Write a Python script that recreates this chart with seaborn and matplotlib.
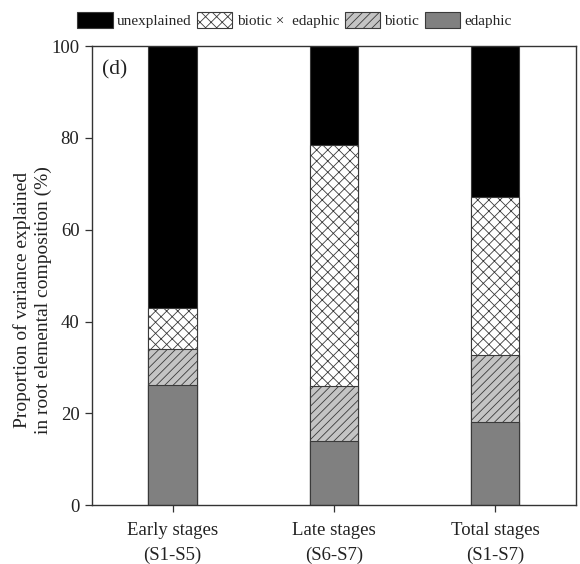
import numpy as np
import pandas as pd
import matplotlib
matplotlib.use("Agg")
import matplotlib.pyplot as plt
import seaborn as sns
from matplotlib.patches import Patch

sns.set_theme(style="white")
plt.rcParams["font.family"] = ["Liberation Serif", "DejaVu Serif"]
plt.rcParams["hatch.linewidth"] = 0.6
plt.rcParams["hatch.color"] = "#555555"

stages = ["Early stages\n(S1-S5)", "Late stages\n(S6-S7)", "Total stages\n(S1-S7)"]
edaphic = [26.1, 13.9, 18.1]
biotic = [8.0, 12.0, 14.6]
interaction = [8.8, 52.5, 34.4]
unexplained = [57.1, 21.6, 32.9]

components = ["edaphic", "biotic", "biotic ×  edaphic", "unexplained"]
values = [edaphic, biotic, interaction, unexplained]
colors = ["#808080", "#c4c4c4", "#ffffff", "#000000"]
hatches = ["", "////", "xxx", ""]

fig = plt.figure(figsize=(5.8, 5.64), dpi=100)
ax = fig.add_axes([0.1586, 0.1046, 0.8344, 0.8134])

# cumulative tops so each segment sits on the previous one; draw tallest first
cum = np.cumsum(np.array(values), axis=0)
for i in range(len(components) - 1, -1, -1):
    df = pd.DataFrame({"stage": stages, "top": cum[i]})
    n_before = len(ax.patches)
    sns.barplot(data=df, x="stage", y="top", color=colors[i], width=0.3,
                saturation=1, edgecolor="#3a3a3a", linewidth=0.8, ax=ax)
    for p in ax.patches[n_before:]:
        p.set_facecolor(colors[i])
        p.set_hatch(hatches[i])

ax.set_xlim(-0.5, 2.5)
ax.set_ylim(0, 100)
ax.set_yticks([0, 20, 40, 60, 80, 100])
ax.set_xlabel("")
ax.set_ylabel("Proportion of variance explained\nin root elemental composition (%)",
              fontsize=14, color="#222222", linespacing=1.3)
ax.yaxis.set_label_coords(-0.083, 0.447)
ax.tick_params(axis="both", which="both", direction="out", length=5, width=0.9,
               colors="#333333", labelsize=13.5, labelcolor="#222222",
               left=True, bottom=True)
ax.tick_params(axis="y", pad=4)
ax.tick_params(axis="x", pad=7)
for lbl in ax.get_xticklabels():
    lbl.set_linespacing(1.6)
for s in ax.spines.values():
    s.set_color("#333333")
    s.set_linewidth(1.0)

ax.text(0.02, 0.97, "(d)", transform=ax.transAxes, fontsize=15.5,
        va="top", ha="left", color="#222222")

order = [3, 2, 1, 0]
handles = [Patch(facecolor=colors[i], edgecolor="#3a3a3a", hatch=hatches[i],
                 linewidth=0.8, label=components[i]) for i in order]
fig.legend(handles=handles, loc="upper center", bbox_to_anchor=(0.508, 0.995),
           ncol=4, frameon=False, fontsize=11, handlelength=2.3, handleheight=1.25,
           handletextpad=0.3, columnspacing=0.35, borderaxespad=0.2)

fig.savefig("out.png", dpi=100)
